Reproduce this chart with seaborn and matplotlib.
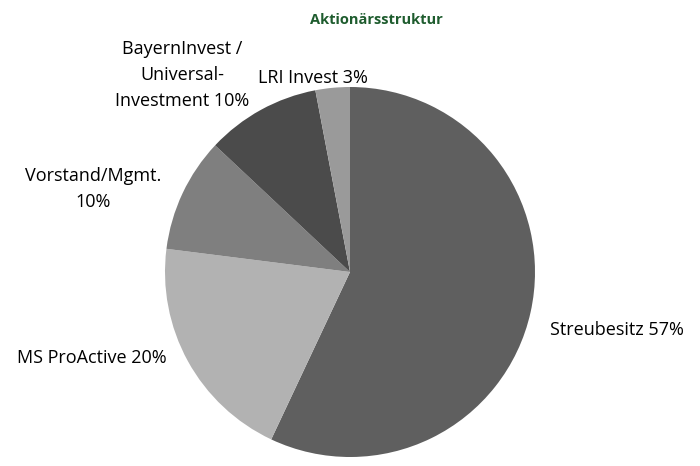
import matplotlib
matplotlib.use("Agg")
import matplotlib.pyplot as plt
import seaborn as sns

# Shareholder structure
labels = ["Streubesitz 57%", "MS ProActive 20%", "Vorstand/Mgmt.\n10%",
          "BayernInvest /\nUniversal-\nInvestment 10%", "LRI Invest 3%"]
shares = [57, 20, 10, 10, 3]
colors = ["#5f5f5f", "#b2b2b2", "#7f7f7f", "#4b4b4b", "#9a9a9a"]

# label anchor points in figure pixels (x, y from top)
label_pos = [(617, 330), (92, 358), (93, 189), (182, 75), (313, 78)]

sns.set_theme(style="white")
plt.rcParams["font.family"] = ["Open Sans", "DejaVu Sans"]

W, H = 700, 466
fig = plt.figure(figsize=(W / 100, H / 100), dpi=100)
cx, cy, r = 350, 272, 185
ax = fig.add_axes([(cx - r) / W, (H - cy - r) / H, 2 * r / W, 2 * r / H])

ax.pie(shares, colors=colors, startangle=90, counterclock=False,
       radius=1, wedgeprops=dict(linewidth=0))
ax.set_xlim(-1, 1)
ax.set_ylim(-1, 1)
ax.set_aspect("equal")
ax.axis("off")

for lab, (x, y) in zip(labels, label_pos):
    fig.text(x / W, 1 - y / H, lab, ha="center", va="center",
             fontsize=13, color="#000000", linespacing=1.6)

fig.text(376 / W, 1 - 20 / H, "Aktionärsstruktur", ha="center", va="center",
         fontsize=10.5, fontweight="bold", color="#1e5c2e")

fig.savefig("out.png", dpi=100)
